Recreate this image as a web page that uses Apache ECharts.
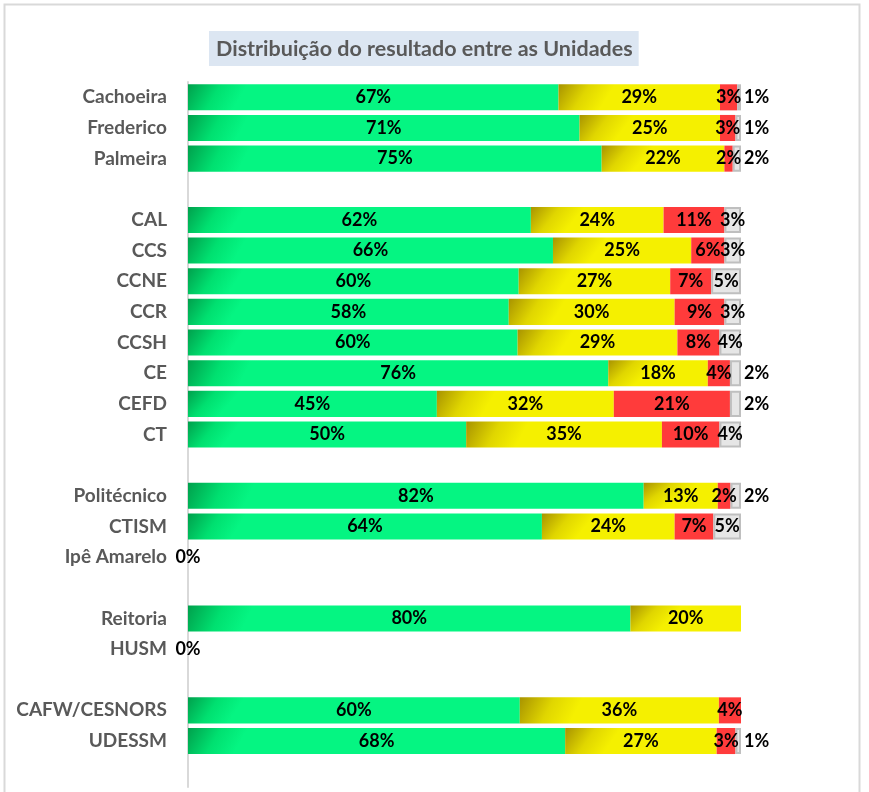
<!DOCTYPE html>
<html>
<head>
<meta charset="utf-8">
<style>
  html, body { margin: 0; padding: 0; background: #fff; }
  #chart { width: 869px; height: 792px; }
</style>
<script src="https://cdn.jsdelivr.net/npm/echarts@6/dist/echarts.min.js"></script>
</head>
<body>
<div id="chart"></div>
<script>
// linhas em branco separam os grupos de unidades
var categorias = ['Cachoeira', 'Frederico', 'Palmeira', ' ',
    'CAL', 'CCS', 'CCNE', 'CCR', 'CCSH', 'CE', 'CEFD', 'CT', '  ',
    'Politécnico', 'CTISM', 'Ipê Amarelo', '   ',
    'Reitoria', 'HUSM', '    ',
    'CAFW/CESNORS', 'UDESSM', '     '];

var verde    = [67, 70.8, 74.8, null, 62, 66, 59.8, 58, 59.6, 76, 45, 50.3, null, 82.4, 64, 0, null, 80, 0, null, 60, 68.2, null];
var amarelo  = [29.2, 25.4, 22.2, null, 24, 25, 27.4, 30, 28.9, 18, 32, 35.4, null, 13.4, 24, null, null, 20, null, null, 36, 27.4, null];
var vermelho = [3.1, 2.8, 1.5, null, 11, 6, 7.4, 9, 7.6, 4, 21, 10.4, null, 2.3, 7, null, null, null, null, null, 4, 3.4, null];
var cinza    = [0.7, 1.0, 1.5, null, 3, 3, 5.4, 3, 3.9, 2, 2, 3.9, null, 1.9, 5, null, null, null, null, null, null, 1.0, null];

var fonte = 'Lato';

function rotulo(p) {
    return Math.round(p.value) + '%';
}

var labelBase = {
    show: true,
    position: 'inside',
    formatter: rotulo,
    color: '#000',
    fontFamily: fonte,
    fontWeight: 'bold',
    fontSize: 18
};

var myEcharts = echarts.init(document.getElementById('chart'));
var option = {
    animation: false,
    title: {
        text: 'Distribuição do resultado entre as Unidades',
        left: 209,
        top: 31,
        backgroundColor: '#dce6f2',
        padding: [7, 6, 6, 7],
        textStyle: {
            fontFamily: fonte,
            fontWeight: 'bold',
            fontSize: 21.5,
            color: '#595959'
        }
    },
    graphic: [{  // moldura do gráfico
        type: 'rect',
        left: 2, top: 2,
        shape: { width: 855, height: 820 },
        style: { fill: 'none', stroke: '#d9d9d9', lineWidth: 2 },
        silent: true
    }],
    grid: { left: 188, top: 82, width: 553, height: 705, containLabel: false },
    xAxis: {
        type: 'value',
        min: 0,
        max: 100,
        show: false
    },
    yAxis: {
        type: 'category',
        data: categorias,
        inverse: true,
        axisLine: { show: true, lineStyle: { color: '#d9d9d9', width: 2 } },
        axisTick: { show: false },
        axisLabel: {
            margin: 21,
            color: '#595959',
            fontFamily: fonte,
            fontWeight: 'bold',
            fontSize: 19
        }
    },
    series: [{
        name: 'Verde',
        type: 'bar',
        stack: 'total',
        barCategoryGap: '15%',
        itemStyle: {
            color: new echarts.graphic.LinearGradient(0, 0, 0.12, 1, [
                { offset: 0, color: '#00a04c' },
                { offset: 0.55, color: '#00e070' },
                { offset: 1, color: '#05f582' }
            ])
        },
        label: labelBase,
        data: verde
    }, {
        name: 'Amarelo',
        type: 'bar',
        stack: 'total',
        itemStyle: {
            color: new echarts.graphic.LinearGradient(0, 0, 0.25, 1, [
                { offset: 0, color: '#a89300' },
                { offset: 0.55, color: '#e0d600' },
                { offset: 1, color: '#f5f000' }
            ])
        },
        label: labelBase,
        data: amarelo
    }, {
        name: 'Vermelho',
        type: 'bar',
        stack: 'total',
        itemStyle: { color: '#ff3b3b' },
        label: labelBase,
        data: vermelho
    }, {
        name: 'Cinza',
        type: 'bar',
        stack: 'total',
        itemStyle: { color: '#e6e6e6', borderColor: '#bfbfbf', borderWidth: 2 },
        label: labelBase,
        data: cinza.map(function (v) {
            // rótulos das fatias pequenas ficam ao lado da barra
            return { value: v, label: { position: v !== null && v <= 2 ? 'right' : 'inside', distance: 3 } };
        })
    }]
};
myEcharts.setOption(option);
</script>
</body>
</html>
